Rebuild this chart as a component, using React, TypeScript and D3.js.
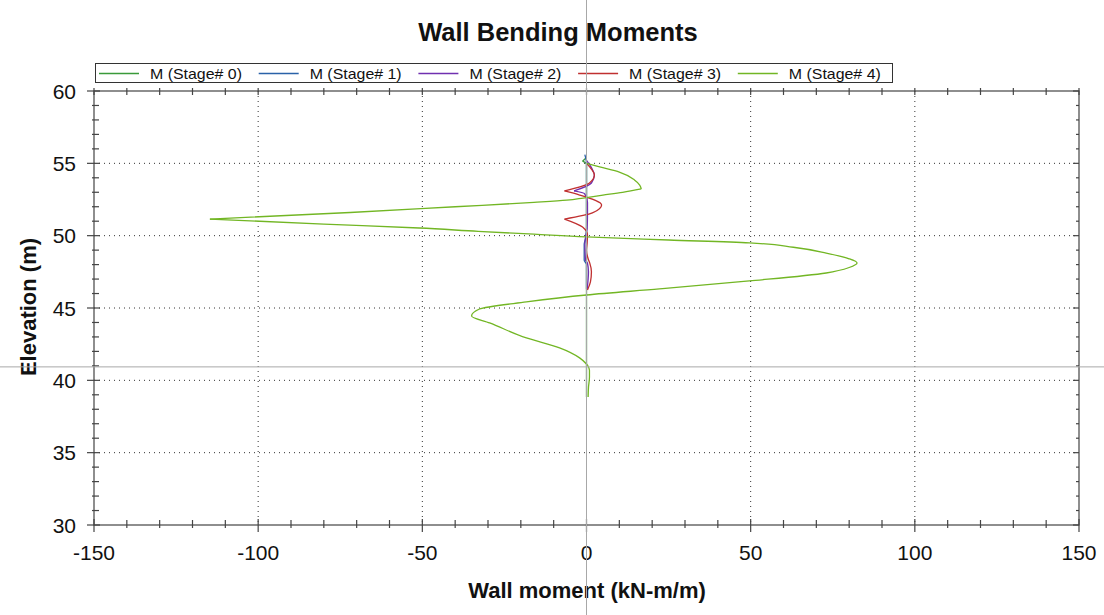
import React from "react";
import * as d3 from "d3";

const stageNames = ["M (Stage# 0)", "M (Stage# 1)", "M (Stage# 2)", "M (Stage# 3)", "M (Stage# 4)"];
const stageColors = ["#3a9a3a", "#2a62a8", "#7030b0", "#c03030", "#72b624"];

// [elevation, moment]
const stage0: [number, number][] = [
  [55.4, 0], [55.15, -1.2], [54.95, 0], [50, 0], [45, 0], [40, 0], [38.85, 0],
];
const stage1: [number, number][] = [
  [55.6, -0.5], [55.0, 0], [53.0, 0], [50.5, 0], [49.8, -0.3], [49.4, -0.7],
  [48.3, -0.7], [48.0, 0], [47.0, 0], [46.3, 0],
];
const stage2: [number, number][] = [
  [55.2, 0], [54.7, 1.5], [54.19, 2.4], [53.64, 1.5], [53.09, -3.8], [52.9, -0.6],
  [52.3, 0.3], [51.5, 0.3], [50.5, 0.2], [50.0, -0.2], [49.4, -0.5], [48.3, -0.3],
  [48.1, 0.3], [47.5, 0.6], [47.0, 0.5], [46.3, 0.2],
];
const stage3: [number, number][] = [
  [55.0, 0], [54.6, 1.5], [54.19, 2.4], [53.64, 0.9], [53.09, -6.7], [52.81, -2.1],
  [52.12, 4.6], [51.57, 1.8], [51.15, -6.7], [50.6, -1.2], [50.05, 0.3], [49.5, 0.2],
  [49.0, 0], [48.4, 0.5], [48.1, 1.0], [47.5, 1.5], [46.8, 1.2], [46.25, 0.3],
];
const stage4: [number, number][] = [
  [55.0, 0], [54.75, 4.0], [54.4, 10], [53.85, 14.6], [53.5, 16.2], [53.23, 16.7],
  [53.0, 11], [52.8, 5], [52.6, -1], [52.45, -6], [52.3, -16], [52.0, -40],
  [51.6, -72], [51.15, -114.7],
  [50.8, -80], [50.53, -51], [50.3, -33], [50.1, -16], [49.91, 0], [49.7, 25],
  [49.5, 49.6], [49.2, 63], [48.8, 73], [48.4, 80], [48.11, 82.4], [47.8, 80],
  [47.42, 73], [46.87, 49.6], [46.32, 22.2], [45.9, 0], [45.42, -18.3],
  [44.93, -32.6], [44.45, -35.0], [43.97, -29.5], [42.93, -18.3],
  [42.24, -8.2], [41.55, -2.1], [41.06, 0.3], [40.7, 0.9], [40.23, 0.9],
  [39.5, 0.6], [38.85, 0.5],
];
const stages = [stage0, stage1, stage2, stage3, stage4];
// elevations where the moment diagram has a kink (strut levels)
const stageKinks: number[][] = [[55.15], [], [53.09], [53.09, 51.15], [53.23, 51.15, 41.06]];

const xTicks = [-150, -100, -50, 0, 50, 100, 150];
const yTicks = [30, 35, 40, 45, 50, 55, 60];
const crossElevation = 40.93;

function splitAtKinks(data: [number, number][], kinks: number[]) {
  const segs: [number, number][][] = [];
  let cur: [number, number][] = [];
  data.forEach((d) => {
    cur.push(d);
    if (kinks.includes(d[0])) {
      segs.push(cur);
      cur = [d];
    }
  });
  if (cur.length > 1) segs.push(cur);
  return segs;
}

export default function App() {
  const W = 1104, H = 615;
  const L = 94, R = 1079, T = 91, B = 525;
  const x = d3.scaleLinear().domain([-150, 150]).range([L, R]);
  const y = d3.scaleLinear().domain([30, 60]).range([B, T]);
  const line = d3
    .line<[number, number]>()
    .x((d) => x(d[1]))
    .y((d) => y(d[0]))
    .curve(d3.curveMonotoneY);

  const xMinor = d3.range(-150, 151, 10);
  const yMinor = d3.range(30, 61, 1);
  const font = "'Liberation Sans', Arial, sans-serif";
  const axisColor = "#444";

  return (
    <svg
      width={W}
      height={H}
      style={{ position: "absolute", left: 0, top: 0, background: "#fff" }}
      fontFamily={font}
    >
      <rect x={0} y={0} width={W} height={H} fill="#fff" />
      <text x={558} y={41} textAnchor="middle" fontSize={25.5} fontWeight="bold" fill="#111">
        Wall Bending Moments
      </text>

      {/* grid */}
      {yTicks.filter((t) => t > 30 && t < 60).map((t) => (
        <line key={"gy" + t} x1={L} x2={R} y1={y(t)} y2={y(t)} stroke="#333" strokeWidth={1} strokeDasharray="1,4" />
      ))}
      {xTicks.filter((t) => t > -150 && t < 150).map((t) => (
        <line key={"gx" + t} x1={x(t)} x2={x(t)} y1={T} y2={B} stroke="#333" strokeWidth={1} strokeDasharray="1,4" />
      ))}

      {/* frame */}
      <rect x={L} y={T} width={R - L} height={B - T} fill="none" stroke={axisColor} strokeWidth={1.2} />

      {/* left / right axis ticks */}
      {yMinor.map((t) => {
        const major = t % 5 === 0;
        return (
          <g key={"ly" + t}>
            <line x1={major ? L - 7 : L - 2} x2={major ? L + 6 : L + 5} y1={y(t)} y2={y(t)} stroke={axisColor} strokeWidth={1.2} />
            <line x1={R - (major ? 6 : 3)} x2={R} y1={y(t)} y2={y(t)} stroke={axisColor} strokeWidth={1.2} />
          </g>
        );
      })}
      {/* bottom / top ticks */}
      {xMinor.map((t) => {
        const major = t % 50 === 0;
        return (
          <g key={"bx" + t}>
            <line x1={x(t)} x2={x(t)} y1={major ? B - 6 : B - 5} y2={major ? B + 7 : B + 3} stroke={axisColor} strokeWidth={1.2} />
            <line x1={x(t)} x2={x(t)} y1={T - 3} y2={T + 4} stroke={axisColor} strokeWidth={1.2} />
          </g>
        );
      })}

      {/* tick labels */}
      {yTicks.map((t) => (
        <text key={"yl" + t} x={L - 18} y={y(t) + 7.5} textAnchor="end" fontSize={21} fill="#111">
          {t}
        </text>
      ))}
      {xTicks.map((t) => (
        <text key={"xl" + t} x={x(t)} y={B + 35} textAnchor="middle" fontSize={21} fill="#111">
          {t}
        </text>
      ))}

      <text x={587} y={598} textAnchor="middle" fontSize={22} fontWeight="bold" fill="#111">
        Wall moment (kN-m/m)
      </text>
      <text
        transform={`translate(36, ${307}) rotate(-90)`}
        textAnchor="middle"
        fontSize={22}
        fontWeight="bold"
        fill="#111"
      >
        Elevation (m)
      </text>

      {/* series */}
      {stages.map((s, i) => {
        const sorted = [...s].sort((a, b) => b[0] - a[0]);
        const segs = splitAtKinks(sorted, stageKinks[i]);
        return (
          <g key={"s" + i}>
            {segs.map((seg, j) => (
              <path key={j} d={line(seg) || ""} fill="none" stroke={stageColors[i]} strokeWidth={1.3} strokeLinejoin="round" />
            ))}
          </g>
        );
      })}

      {/* legend */}
      <rect x={95.5} y={63.5} width={797} height={19} fill="#fff" stroke="#333" strokeWidth={1} />
      {stageNames.map((n, i) => {
        const lx = 99 + i * 159.7;
        return (
          <g key={"lg" + i}>
            <line x1={lx} x2={lx + 40} y1={73.5} y2={73.5} stroke={stageColors[i]} strokeWidth={1.3} />
            <text x={lx + 51} y={79} fontSize={15} fill="#111" textLength={92} lengthAdjust="spacingAndGlyphs">
              {n}
            </text>
          </g>
        );
      })}

      {/* crosshair */}
      <line x1={x(0)} x2={x(0)} y1={0} y2={H} stroke="#a8a8a8" strokeWidth={1} />
      <line x1={0} x2={W} y1={y(crossElevation)} y2={y(crossElevation)} stroke="#a8a8a8" strokeWidth={1} />
    </svg>
  );
}
